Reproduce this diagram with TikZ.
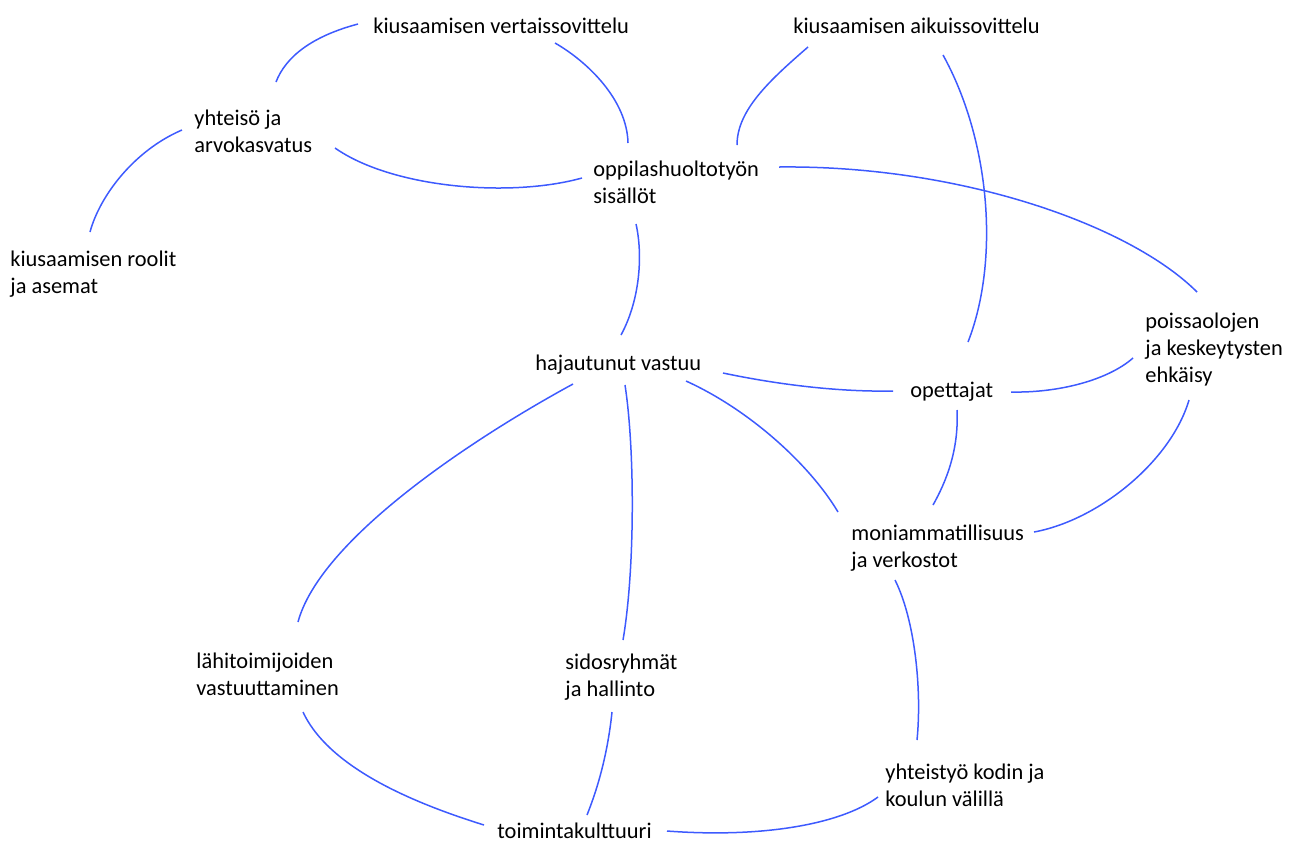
\documentclass[tikz,border=0pt]{standalone}
\usepackage{fontspec}
\setmainfont{Carlito}
\usetikzlibrary{positioning}
\definecolor{linkblue}{RGB}{61,90,254}

\begin{document}
\begin{tikzpicture}[x=0.5pt, y=-0.5pt]
 \tikzset{concept/.style={anchor=base west, align=left, inner sep=0pt,
            font=\fontsize{11.2}{13.5}\selectfont},
          link/.style={draw=linkblue, line width=0.75pt}}
 \useasboundingbox (0,0) rectangle (1293,842);

 % nodes sit on the baseline of their last line
 \node (vert)  at (373,33)  [concept] {kiusaamisen vertaissovittelu};
 \node (aik)   at (793,33)  [concept] {kiusaamisen aikuissovittelu};
 \node (yht)   at (194,152) [concept] {yhteisö ja\\arvokasvatus};
 \node (opp)   at (593,203) [concept] {oppilashuoltotyön\\sisällöt};
 \node (rool)  at (10,293)  [concept] {kiusaamisen roolit\\ja asemat};
 \node (pois)  at (1145,382) [concept] {poissaolojen\\ja keskeytysten\\ehkäisy};
 \node (haj)   at (535,370) [concept] {hajautunut vastuu};
 \node (opet)  at (910,397) [concept] {opettajat};
 \node (moni)  at (851,567) [concept] {moniammatillisuus\\ja verkostot};
 \node (lahi)  at (196,695) [concept] {lähitoimijoiden\\vastuuttaminen};
 \node (sidos) at (565,696) [concept] {sidosryhmät\\ja hallinto};
 \node (ykk)   at (885,806) [concept] {yhteistyö kodin ja\\koulun välillä};
 \node (toim)  at (497,838) [concept] {toimintakulttuuri};

 % top part
 \draw [link] ([shift={(82,-70)}]yht.base west) .. controls +(10,-26) and +(-45,12) .. ([shift={(-15,-9)}]vert.base west);
 \draw [link] ([shift={(182,10)}]vert.base west) .. controls +(33,19) and +(-1,-43) .. ([shift={(35,-60)}]opp.base west);
 \draw [link] ([shift={(15,14)}]aik.base west) .. controls +(-38,33) and +(0,-35) .. ([shift={(144,-58)}]opp.base west);
 \draw [link] ([shift={(150,22)}]aik.base west) .. controls +(47,85) and +(32,-82) .. ([shift={(58,-55)}]opet.base west);
 \draw [link] ([shift={(141,-4)}]yht.base west) .. controls +(57,40) and +(-72,20) .. ([shift={(-11,-25)}]opp.base west);
 \draw [link] ([shift={(-12,-22)}]yht.base west) .. controls +(-47,20) and +(10,-37) .. ([shift={(80,-61)}]rool.base west);
 \draw [link] ([shift={(186,-36)}]opp.base west) .. controls +(181,-2) and +(-67,-67) .. ([shift={(52,-90)}]pois.base west);
 \draw [link] ([shift={(43,21)}]opp.base west) .. controls +(7,31) and +(19,-35) .. ([shift={(86,-35)}]haj.base west);

 % middle part
 \draw [link] ([shift={(188,3)}]haj.base west) .. controls +(57,12) and +(-53,1) .. ([shift={(-17,-6)}]opet.base west);
 \draw [link] ([shift={(101,-5)}]opet.base west) .. controls +(48,1) and +(-25,22) .. ([shift={(-12,-24)}]pois.base west);
 \draw [link] ([shift={(47,13)}]opet.base west) .. controls +(2,40) and +(13,-23) .. ([shift={(82,-62)}]moni.base west);
 \draw [link] ([shift={(44,18)}]pois.base west) .. controls +(-18,61) and +(65,-12) .. ([shift={(183,-35)}]moni.base west);
 \draw [link] ([shift={(151,11)}]haj.base west) .. controls +(64,29) and +(-28,-47) .. ([shift={(-13,-55)}]moni.base west);
 \draw [link] ([shift={(38,14)}]haj.base west) .. controls +(-103,56) and +(22,-82) .. ([shift={(102,-73)}]lahi.base west);
 \draw [link] ([shift={(90,15)}]haj.base west) .. controls +(10,65) and +(12,-70) .. ([shift={(58,-56)}]sidos.base west);
 \draw [link] ([shift={(44,13)}]moni.base west) .. controls +(20,40) and +(5,-50) .. ([shift={(32,-66)}]ykk.base west);

 % bottom part
 \draw [link] ([shift={(47,16)}]sidos.base west) .. controls +(-5,48) and +(8,-20) .. ([shift={(90,-23)}]toim.base west);
 \draw [link] ([shift={(107,17)}]lahi.base west) .. controls +(27,58) and +(-64,-20) .. ([shift={(-13,-13)}]toim.base west);
 \draw [link] ([shift={(170,-7)}]toim.base west) .. controls +(93,7) and +(-38,28) .. ([shift={(-7,-9)}]ykk.base west);
\end{tikzpicture}
\end{document}
